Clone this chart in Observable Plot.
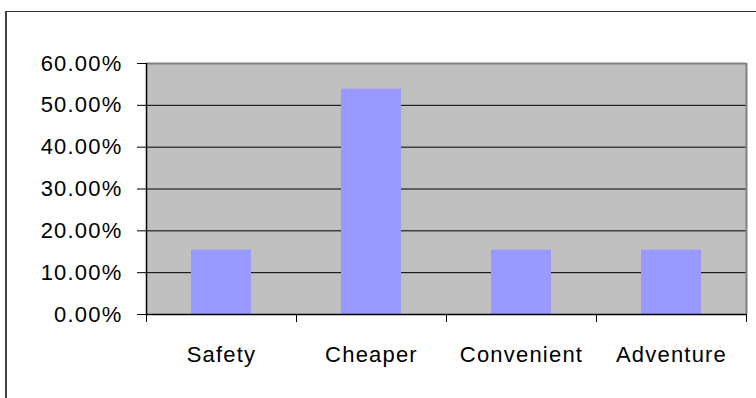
<!DOCTYPE html>
<html><head><meta charset="utf-8">
<script src="https://cdn.jsdelivr.net/npm/d3@7"></script>
<script src="https://cdn.jsdelivr.net/npm/@observablehq/plot@0.6"></script>
<style>
html,body{margin:0;padding:0;background:#fff;}
#wrap{position:relative;width:756px;height:398px;overflow:hidden;}
#frame{position:absolute;left:5px;top:11px;width:800px;height:500px;border-top:1px solid #333;border-left:2px solid #444;pointer-events:none;}
</style></head><body><div id="wrap"><div id="frame"></div></div>
<script>
const categories = ["Safety", "Cheaper", "Convenient", "Adventure"];
const shares = [0.1538, 0.5385, 0.1538, 0.1538];
const yTicks = [0, 0.1, 0.2, 0.3, 0.4, 0.5, 0.6];
const data = categories.map((c, i) => ({category: c, index: i, share: shares[i]}));
const fmt = d3.format(".2%");
const chart = Plot.plot({
  width: 756, height: 398, marginLeft: 146, marginRight: 10, marginTop: 63, marginBottom: 84,
  style: {fontFamily: "'Liberation Sans', Arial, sans-serif", fontSize: "22px", color: "#000", background: "transparent", letterSpacing: "1.2px"},
  x: {type: "linear", domain: [0, categories.length]},
  y: {domain: [0, 0.6]},
  marks: [
    Plot.frame({fill: "#C0C0C0"}),
    Plot.ruleY(yTicks.slice(1, -1), {stroke: "#000", strokeWidth: 1}),
    Plot.rectY(data, {x1: d => d.index + 0.3, x2: d => d.index + 0.7, y: "share", fill: "#9999FF"}),
    Plot.ruleY([0.6], {stroke: "#808080", strokeWidth: 2}),
    Plot.ruleX([categories.length], {stroke: "#808080", strokeWidth: 2}),
    Plot.axisY({ticks: yTicks, tickFormat: fmt, tickSize: 9, tickPadding: 15, stroke: "#000", label: null}),
    Plot.axisX({ticks: d3.range(categories.length + 1), tickFormat: () => "", tickSize: 8, stroke: "#000", label: null}),
    Plot.axisX({ticks: d3.range(categories.length).map(i => i + 0.5), tickFormat: v => categories[Math.floor(v)], tickSize: 0, tickPadding: 32, label: null}),
    Plot.ruleX([0], {stroke: "#000", strokeWidth: 1.5}),
    Plot.ruleY([0], {stroke: "#000", strokeWidth: 1.5})
  ]
});
chart.style.position = "absolute";
chart.style.left = "0px";
chart.style.top = "0px";
document.getElementById("wrap").appendChild(chart);
</script>
</body></html>
